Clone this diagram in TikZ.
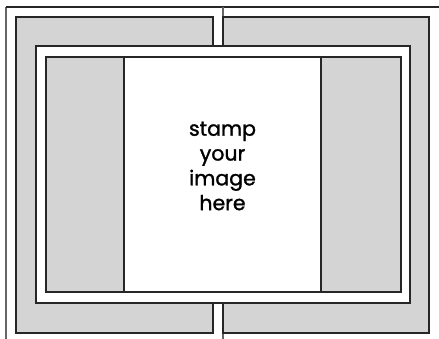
\documentclass[tikz,border=0pt]{standalone}
\usepackage{fontspec}
\setmainfont{Poppins}
\newfontfamily\lblfont{Poppins}[FakeBold=1.3]
\begin{document}
\begin{tikzpicture}[x=1pt,y=-1pt,
  edge/.style={draw=black!85,line width=1.1pt},
  panel/.style={edge,fill=black!17},
  mat/.style={edge,fill=white},
  label/.style={font=\lblfont\fontsize{20.5}{24.8}\selectfont,align=center,text=black}]
\useasboundingbox[fill=white] (0,0) rectangle (439,339);
% base card
\draw[edge,draw=black!60] (6,339) -- (6,7);
\draw[edge] (6,7) -- (439,7);
\draw[edge,draw=black!60] (223,7) -- (223,339);
% flap panels
\path[panel] (16,17) rectangle (213,333);
\path[panel] (223,17) rectangle (429,333);
% white mat
\path[mat] (36,46) rectangle (410,303);
% inner layer
\path[panel] (46,57) rectangle (124,292);
\path[mat] (124,57) rectangle (321,292);
\path[panel] (321,57) rectangle (401,292);
\node[label] (txt) at (222.5,166) {stamp\\your\\image\\here};
\end{tikzpicture}
\end{document}
